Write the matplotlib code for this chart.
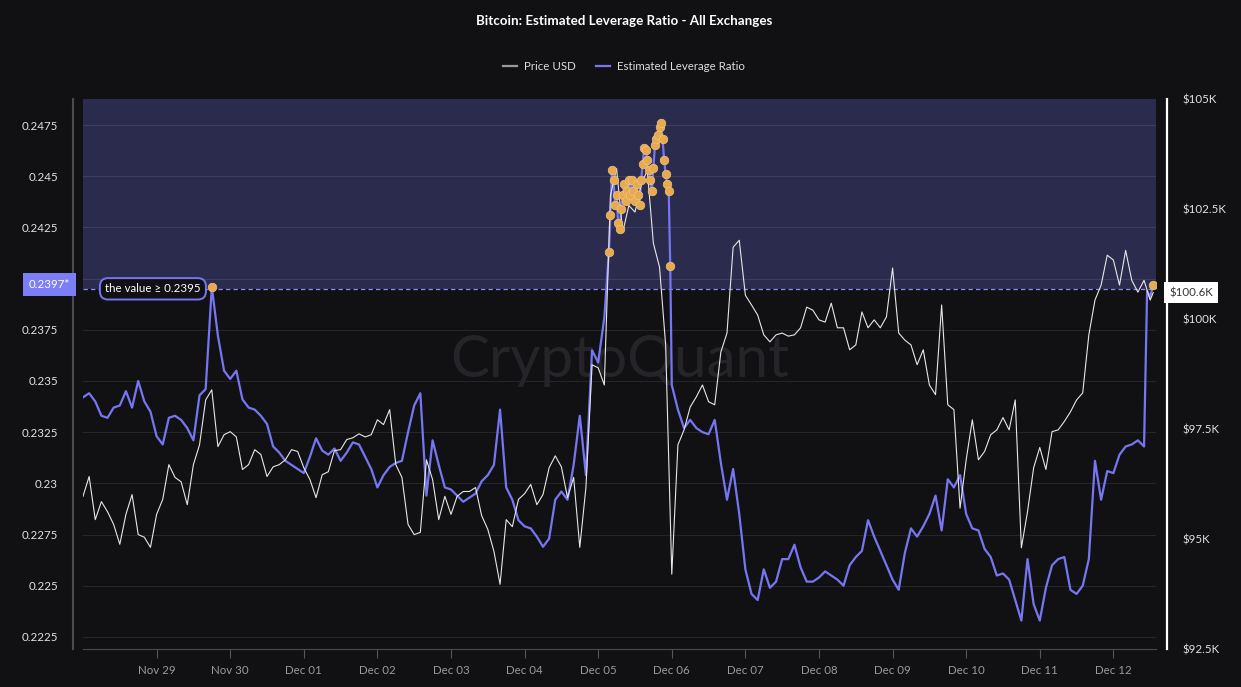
import matplotlib
matplotlib.use("Agg")
import matplotlib.pyplot as plt
import matplotlib.dates as mdates
import matplotlib.transforms as mtransforms
from matplotlib.lines import Line2D
import numpy as np
import pandas as pd

plt.rcParams["font.family"] = ["Lato", "DejaVu Sans"]

START = pd.Timestamp("2024-11-28 00:00")
THRESHOLD = 0.2395

# Estimated leverage ratio (hours from Nov 28 00:00)
lev_early = [  # every 2h, h0 .. h170
    0.2342, 0.2344, 0.2340, 0.2333, 0.2332, 0.2337, 0.2338, 0.2345, 0.2337, 0.2350,
    0.2340, 0.2335, 0.2323, 0.2319, 0.2332, 0.2333, 0.2331, 0.2327, 0.2321, 0.2343,
    0.2346, 0.2396, 0.2372, 0.2355, 0.2351, 0.2355, 0.2341, 0.2337, 0.2336, 0.2333,
    0.2329, 0.2318, 0.2315, 0.2311, 0.2309, 0.2307, 0.2305, 0.2313, 0.2322, 0.2316,
    0.2314, 0.2317, 0.2311, 0.2315, 0.2320, 0.2319, 0.2313, 0.2307, 0.2298, 0.2304,
    0.2308, 0.2310, 0.2311, 0.2325, 0.2338, 0.2344, 0.2294, 0.2321, 0.2309, 0.2298,
    0.2297, 0.2294, 0.2291, 0.2293, 0.2295, 0.2301, 0.2304, 0.2309, 0.2336, 0.2298,
    0.2292, 0.2282, 0.2279, 0.2278, 0.2274, 0.2269, 0.2273, 0.2292, 0.2296, 0.2292,
    0.2309, 0.2333, 0.2304, 0.2365, 0.2359, 0.2381,
]
lev_spike = [  # every 30 min, h171.5 .. h191.5
    0.2413, 0.2431, 0.2453, 0.2448, 0.2436, 0.2441, 0.2427, 0.2424, 0.2434, 0.2441,
    0.2446, 0.2438, 0.2443, 0.2448, 0.2441, 0.2448, 0.2443, 0.2438, 0.2446, 0.2441,
    0.2436, 0.2448, 0.2456, 0.2464, 0.2463, 0.2458, 0.2453, 0.2448, 0.2443, 0.2454,
    0.2465, 0.2468, 0.2470, 0.2474, 0.2476, 0.2468, 0.2458, 0.2451, 0.2446, 0.2443,
    0.2406,
]
lev_late = [  # every 2h, h192 .. h346
    0.2348, 0.2336, 0.2327, 0.2331, 0.2327, 0.2325, 0.2324, 0.2331, 0.2310, 0.2292,
    0.2307, 0.2285, 0.2258, 0.2246, 0.2243, 0.2258, 0.2249, 0.2252, 0.2263, 0.2263,
    0.2270, 0.2259, 0.2252, 0.2252, 0.2254, 0.2257, 0.2255, 0.2253, 0.2250, 0.2260,
    0.2264, 0.2267, 0.2282, 0.2274, 0.2267, 0.2260, 0.2253, 0.2248, 0.2266, 0.2278,
    0.2274, 0.2279, 0.2285, 0.2294, 0.2277, 0.2302, 0.2298, 0.2304, 0.2285, 0.2278,
    0.2277, 0.2268, 0.2264, 0.2255, 0.2256, 0.2253, 0.2243, 0.2233, 0.2263, 0.2241,
    0.2233, 0.2249, 0.2260, 0.2263, 0.2264, 0.2248, 0.2246, 0.2250, 0.2263, 0.2311,
    0.2292, 0.2306, 0.2305, 0.2314, 0.2318, 0.2319, 0.2321, 0.2318,
]
lev_tail = [0.2394, 0.2391, 0.2397]  # h347, h348, h349

lev_hours = (list(range(0, 171, 2)) + [171.5 + 0.5 * i for i in range(41)]
             + list(range(192, 347, 2)) + [347, 348, 349])
lev_values = np.array(lev_early + lev_spike + lev_late + lev_tail)

# BTC price USD, every 2h from h0 to h348, plus last print at h349
price_values = np.array([
    95970, 96420, 95440, 95850, 95620, 95330, 94880, 95560, 96010, 95100,
    95040, 94810, 95560, 95900, 96690, 96400, 96300, 95780, 96690, 97140,
    98160, 98390, 97100, 97370, 97440, 97320, 96580, 96690, 97030, 96920,
    96420, 96640, 96690, 96800, 97030, 96990, 96620, 96350, 95940, 96460,
    96530, 97010, 97030, 97260, 97300, 97390, 97320, 97370, 97710, 97600,
    97940, 96690, 96400, 95330, 95100, 95150, 96800, 96350, 95440, 95970,
    95560, 95970, 96080, 96080, 96170, 95530, 95220, 94720, 93970, 95440,
    95280, 95900, 96030, 96240, 95780, 96010, 96620, 96890, 96640, 95940,
    96400, 94810, 96170, 98960, 98890, 98500, 102810, 103420, 101970, 102580,
    102430, 103040, 103380, 101720, 101180, 99410, 94200, 97140, 97480, 98000,
    98230, 98500, 98120, 98050, 99250, 99680, 101630, 101790, 100540, 100320,
    100090, 99640, 99480, 99640, 99680, 99610, 99640, 99800, 100270, 100200,
    99980, 99930, 100360, 99800, 99800, 99300, 99410, 100160, 99800, 99980,
    99800, 100050, 101160, 99680, 99520, 99410, 98960, 99300, 98500, 98280,
    100320, 98050, 97940, 95700, 96800, 97710, 96800, 96990, 97370, 97480,
    97760, 97480, 98160, 94800, 95620, 96620, 97080, 96580, 97440, 97480,
    97670, 97890, 98160, 98320, 99640, 100430, 100770, 101450, 101340, 100770,
    101560, 100880, 100610, 100880, 100430, 100600,
])
price_hours = list(range(0, 349, 2)) + [349]

left_ticks = [0.2225, 0.225, 0.2275, 0.23, 0.2325, 0.235, 0.2375, 0.24, 0.2425, 0.245, 0.2475]
right_ticks = [92500, 95000, 97500, 100000, 102500, 105000]

BG = "#111114"
SHADE = "#2b2b4d"
LEV = "#7676f2"
PRICE = "#e6e6e6"
DOT = "#e8aa4e"

lev_t = START + pd.to_timedelta(lev_hours, unit="h")
price_t = START + pd.to_timedelta(price_hours, unit="h")

fig = plt.figure(figsize=(12.41, 6.87), dpi=100, facecolor=BG)
ax = fig.add_axes([83 / 1241, 38 / 687, 1073 / 1241, 550 / 687])
ax.set_facecolor(BG)
ax2 = ax.twinx()

y_lo, y_hi = 0.22191, 0.24877

# shaded zone above the alert threshold
ax.axhspan(THRESHOLD, y_hi, color=SHADE, lw=0, zorder=0)
ax.axhline(THRESHOLD, color="#8b8bf5", lw=0.9, ls=(0, (3.5, 2.5)), zorder=2)

ax.text(0.5, 0.525, "CryptoQuant", transform=ax.transAxes, fontsize=42,
        color="#252529", ha="center", va="center", zorder=1)

ax.plot(lev_t, lev_values, color=LEV, lw=1.6, zorder=3)
ax2.plot(price_t, price_values, color=PRICE, lw=0.8, zorder=3)

# markers where the ratio is at or above the threshold
hot = lev_values >= THRESHOLD
ax2.scatter(lev_t[hot], lev_values[hot], transform=ax.transData, s=38,
            color=DOT, edgecolor="#f2c47c", linewidth=0.5, zorder=5)

# axes, ticks
ax.set_xlim(START, START + pd.Timedelta(hours=349.9))
ax.set_ylim(y_lo, y_hi)
ax2.set_ylim(92500, 105000)

ax.set_yticks(left_ticks)
ax.set_yticklabels(["" if v == 0.24 else f"{v:g}" for v in left_ticks])
ax.grid(axis="y", color="white", alpha=0.09, lw=0.8)
ax.set_axisbelow(True)

ax2.set_yticks(right_ticks)
ax2.set_yticklabels([f"${v / 1000:g}K" for v in right_ticks])

tick_days = pd.date_range("2024-11-29", "2024-12-12", freq="D")
ax.set_xticks(tick_days)
ax.xaxis.set_major_formatter(mdates.DateFormatter("%b %d"))

ax.tick_params(axis="y", length=0, pad=11, labelcolor="#e2e2e2", labelsize=8.3)
ax.tick_params(axis="x", length=6.5, width=0.8, color="#55555a", pad=5,
               labelcolor="#9a9a9e", labelsize=8.3)
ax2.tick_params(axis="y", length=0, pad=11, labelcolor="#e2e2e2", labelsize=8.3)

for a in (ax, ax2):
    a.spines["top"].set_visible(False)
ax.spines["right"].set_visible(False)
ax.spines["left"].set_position(("outward", 7))
ax.spines["left"].set_color("#4a4a50")
ax.spines["left"].set_linewidth(1.5)
ax.spines["bottom"].set_color("#4a4a50")
ax2.spines["left"].set_visible(False)
ax2.spines["bottom"].set_visible(False)
ax2.spines["right"].set_position(("outward", 8))
ax2.spines["right"].set_color("white")
ax2.spines["right"].set_linewidth(1.6)

# threshold annotation
ax.text(START + pd.Timedelta(hours=22.8), THRESHOLD, "the value \u2265 0.2395",
        ha="center", va="center", fontsize=8.3, color="white", zorder=6,
        bbox=dict(boxstyle="round,pad=0.45,rounding_size=0.7", fc=BG, ec=LEV, lw=1.4))

# last-value badges on both axes
left_tr = mtransforms.blended_transform_factory(ax.transAxes, ax.transData)
ax.text(-0.031, lev_values[-1], f"{lev_values[-1]:.4f}*", transform=left_tr,
        ha="center", va="center", fontsize=8.3, color="white", clip_on=False, zorder=6,
        bbox=dict(boxstyle="square,pad=0.5", fc="#7d7df5", ec="none"))
right_tr = mtransforms.blended_transform_factory(ax2.transAxes, ax2.transData)
ax2.text(1.0326, price_values[-1], f"${price_values[-1] / 1000:.1f}K", transform=right_tr,
         ha="center", va="center", fontsize=8.3, color="#333333", clip_on=False, zorder=6,
         bbox=dict(boxstyle="square,pad=0.45", fc="white", ec="none"))

fig.text(624 / 1241, 1 - 21 / 687, "Bitcoin: Estimated Leverage Ratio - All Exchanges",
         ha="center", va="center", fontsize=9.6, fontweight="bold", color="white")

handles = [Line2D([], [], color="#9a9a9a", lw=1.6, label="Price USD"),
           Line2D([], [], color=LEV, lw=1.6, label="Estimated Leverage Ratio")]
fig.legend(handles=handles, loc="center", bbox_to_anchor=(624 / 1241, 1 - 67 / 687),
           ncol=2, frameon=False, fontsize=8.3, labelcolor="#dddddd",
           handlelength=1.2, handletextpad=0.6, columnspacing=1.8)

fig.savefig("out.png", dpi=100, facecolor=BG)
